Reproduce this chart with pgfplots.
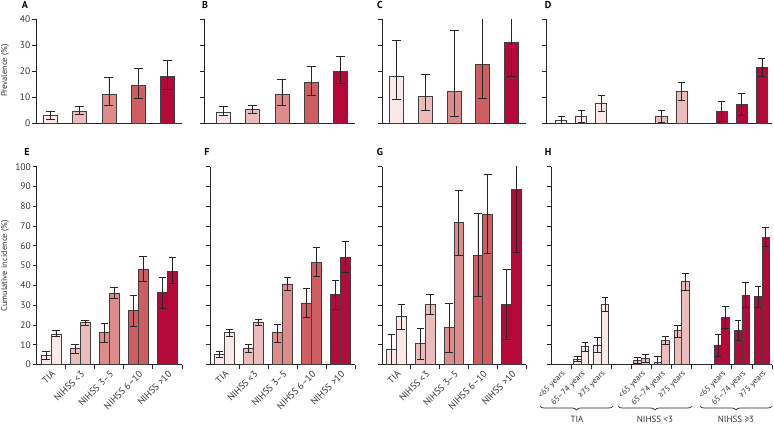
\documentclass[border=0pt]{standalone}
\usepackage{pgfplots}
\pgfplotsset{compat=1.18}
\usepackage{fontspec}
\setmainfont{PT Sans}
\usetikzlibrary{decorations.pathreplacing}
\definecolor{c1}{HTML}{FBE8E8}
\definecolor{c2}{HTML}{EBBCBC}
\definecolor{c3}{HTML}{DD8B8B}
\definecolor{c4}{HTML}{CF5E63}
\definecolor{c5}{HTML}{B5093A}
\definecolor{txt}{HTML}{333333}
\pgfplotsset{
  base/.style={
    scale only axis, axis lines=left,
    axis line style={-, black!85, line width=0.8pt},
    tick align=outside, major tick length=4pt, minor tick length=4pt,
    tick style={black!85, line width=0.8pt},
    major x tick style={draw=none},
    ymin=0,
    tick label style={font=\fontsize{9.5}{11}\selectfont, text=txt},
    /pgf/number format/assume math mode=true,
    xticklabel style={rotate=45, anchor=north east, inner sep=1pt},
    yticklabel style={inner sep=1.5pt},
  },
  top/.style={height=104.3pt, ymax=40, ytick={0,10,20,30,40}, xtick=\empty},
  bot/.style={height=197.8pt, ymax=100, ytick={0,10,...,100}},
  five/.style={xmin=0.5, xmax=5.5, minor xtick={1.5,2.5,3.5,4.5,5.5}},
  eleven/.style={xmax=10.5, minor xtick={0.5,1.5,...,10.5}},
  bs/.style n args={3}{ybar, bar shift=0pt, bar width=#2, draw=black!75, line width=0.8pt, fill=#1,
    error bars/.cd, y dir=both, y explicit,
    error bar style={line width=0.8pt, black!85},
    error mark options={rotate=90, mark size=#3, line width=0.8pt, black!85}},
}
\begin{document}
\begin{tikzpicture}[x=1pt,y=1pt]
\path[use as bounding box] (0,0) rectangle (774,424);
% ---------- A
\begin{axis}[base, top, five, at={(36pt,300.7pt)}, anchor=south west, width=146pt]
\addplot[bs={c1}{0.48}{4.5pt}] coordinates {(1,2.9) += (0,1.8) -= (0,1.4)};
\addplot[bs={c2}{0.48}{4.5pt}] coordinates {(2,4.7) += (0,1.7) -= (0,1.3)};
\addplot[bs={c3}{0.48}{4.5pt}] coordinates {(3,11.2) += (0,6.3) -= (0,4.3)};
\addplot[bs={c4}{0.48}{4.5pt}] coordinates {(4,14.6) += (0,6.5) -= (0,5.1)};
\addplot[bs={c5}{0.48}{4.5pt}] coordinates {(5,17.9) += (0,6.1) -= (0,4.9)};
\end{axis}
% ---------- B
\begin{axis}[base, top, at={(204pt,300.7pt)}, anchor=south west, width=151pt, xmin=0.33, xmax=5.5,
  minor xtick={0.5,1.5,2.5,3.5,4.5,5.5}, yticklabels={}]
\addplot[bs={c1}{0.48}{4.5pt}] coordinates {(1,4.3) += (0,2.1) -= (0,1.4)};
\addplot[bs={c2}{0.48}{4.5pt}] coordinates {(2,5.4) += (0,1.6) -= (0,1.6)};
\addplot[bs={c3}{0.48}{4.5pt}] coordinates {(3,11.2) += (0,5.7) -= (0,4.2)};
\addplot[bs={c4}{0.48}{4.5pt}] coordinates {(4,15.6) += (0,6.1) -= (0,4.9)};
\addplot[bs={c5}{0.48}{4.5pt}] coordinates {(5,20.0) += (0,5.8) -= (0,4.8)};
\end{axis}
% ---------- C
\begin{axis}[base, top, five, at={(382pt,300.7pt)}, anchor=south west, width=144pt, yticklabels={}]
\addplot[bs={c1}{0.48}{4.5pt}] coordinates {(1,18.1) += (0,13.6) -= (0,8.8)};
\addplot[bs={c2}{0.48}{4.5pt}] coordinates {(2,10.2) += (0,8.4) -= (0,5.2)};
\addplot[bs={c3}{0.48}{4.5pt}] coordinates {(3,12.4) += (0,23.4) -= (0,9.8)};
\addplot[bs={c4}{0.48}{4.5pt}] coordinates {(4,22.5) += (0,25.0) -= (0,12.8)};
\addplot[bs={c5}{0.48}{4.5pt}] coordinates {(5,30.9) += (0,20.0) -= (0,12.9)};
\end{axis}
% ---------- D
\begin{axis}[base, top, eleven, at={(546pt,300.7pt)}, anchor=south west, width=226pt, xmin=-0.75, yticklabels={}]
\addplot[bs={c1}{0.56}{3.5pt}] coordinates {(0,1.0) += (0,1.8) -= (0,1.0) (1,2.5) += (0,2.6) -= (0,2.3) (2,7.7) += (0,2.9) -= (0,3.0)};
\addplot[bs={c2}{0.56}{3.5pt}] coordinates {(5,2.5) += (0,2.3) -= (0,2.3) (6,12.3) += (0,3.3) -= (0,3.4)};
\addplot[bs={c5}{0.56}{3.5pt}] coordinates {(8,4.6) += (0,3.8) -= (0,3.7) (9,7.3) += (0,4.0) -= (0,4.1) (10,21.3) += (0,3.4) -= (0,3.2)};
\end{axis}
% ---------- E
\begin{axis}[base, bot, five, at={(36.5pt,59.5pt)}, anchor=south west, width=145.5pt,
  xtick={1,...,5}, xticklabels={TIA, NIHSS <3, NIHSS 3–5, NIHSS 6–10, NIHSS >10}]
\addplot[bs={c1}{0.34}{3.8pt}] coordinates {(0.83,4.8) += (0,2.0) -= (0,2.2) (1.17,15.4) += (0,1.6) -= (0,1.4)};
\addplot[bs={c2}{0.34}{3.8pt}] coordinates {(1.83,8.2) += (0,2.0) -= (0,2.5) (2.17,21.1) += (0,1.4) -= (0,1.1)};
\addplot[bs={c3}{0.34}{3.8pt}] coordinates {(2.83,16.0) += (0,4.8) -= (0,5.0) (3.17,36.0) += (0,3.0) -= (0,2.5)};
\addplot[bs={c4}{0.34}{3.8pt}] coordinates {(3.83,27.2) += (0,7.8) -= (0,7.7) (4.17,48.1) += (0,6.4) -= (0,6.1)};
\addplot[bs={c5}{0.34}{3.8pt}] coordinates {(4.83,36.5) += (0,7.5) -= (0,8.0) (5.17,47.2) += (0,6.8) -= (0,6.2)};
\end{axis}
% ---------- F
\begin{axis}[base, bot, five, at={(210pt,59.5pt)}, anchor=south west, width=145pt, yticklabels={},
  xtick={1,...,5}, xticklabels={TIA, NIHSS <3, NIHSS 3–5, NIHSS 6–10, NIHSS >10}]
\addplot[bs={c1}{0.34}{3.8pt}] coordinates {(0.83,5.1) += (0,1.7) -= (0,1.6) (1.17,16.3) += (0,1.5) -= (0,1.9)};
\addplot[bs={c2}{0.34}{3.8pt}] coordinates {(1.83,8.2) += (0,2.0) -= (0,2.0) (2.17,21.5) += (0,1.3) -= (0,1.5)};
\addplot[bs={c3}{0.34}{3.8pt}] coordinates {(2.83,16.0) += (0,4.3) -= (0,4.8) (3.17,40.7) += (0,3.3) -= (0,3.4)};
\addplot[bs={c4}{0.34}{3.8pt}] coordinates {(3.83,31.1) += (0,7.2) -= (0,7.3) (4.17,51.6) += (0,7.4) -= (0,7.1)};
\addplot[bs={c5}{0.34}{3.8pt}] coordinates {(4.83,35.5) += (0,7.0) -= (0,7.6) (5.17,54.2) += (0,7.9) -= (0,7.6)};
\end{axis}
% ---------- G
\begin{axis}[base, bot, five, at={(382pt,59.5pt)}, anchor=south west, width=144pt, yticklabels={},
  xtick={1,...,5}, xticklabels={TIA, NIHSS <3, NIHSS 3–5, NIHSS 6–10, NIHSS >10}]
\addplot[bs={c1}{0.34}{3.8pt}] coordinates {(0.83,7.8) += (0,7.5) -= (0,7.8) (1.17,24.2) += (0,6.0) -= (0,6.4)};
\addplot[bs={c2}{0.34}{3.8pt}] coordinates {(1.83,10.7) += (0,7.6) -= (0,8.1) (2.17,30.2) += (0,5.1) -= (0,5.0)};
\addplot[bs={c3}{0.34}{3.8pt}] coordinates {(2.83,18.6) += (0,12.3) -= (0,12.4) (3.17,71.8) += (0,16.4) -= (0,16.5)};
\addplot[bs={c4}{0.34}{3.8pt}] coordinates {(3.83,55.3) += (0,21.1) -= (0,20.7) (4.17,75.9) += (0,20.0) -= (0,19.9)};
\addplot[bs={c5}{0.34}{3.8pt}] coordinates {(4.83,30.4) += (0,17.9) -= (0,17.5) (5.17,88.5) += (0,15.0) -= (0,32.0)};
\end{axis}
% ---------- H
\begin{axis}[base, bot, eleven, at={(551pt,59.5pt)}, anchor=south west, width=221pt, xmin=-0.5, yticklabels={},
  xticklabel style={font=\fontsize{8.3}{10}\selectfont},
  xtick={0,1,2,4,5,6,8,9,10},
  xticklabels={<65 years, 65–74 years, ≥75 years, <65 years, 65–74 years, ≥75 years, <65 years, 65–74 years, ≥75 years}]
\addplot[bs={c1}{0.37}{3.3pt}] coordinates {(0.81,2.6) += (0,1.4) -= (0,1.2) (1.19,9.0) += (0,2.0) -= (0,2.2) (1.81,9.9) += (0,3.8) -= (0,3.9) (2.19,30.4) += (0,3.4) -= (0,3.7)};
\addplot[bs={c2}{0.37}{3.3pt}] coordinates {(3.81,2.1) += (0,1.7) -= (0,1.5) (4.19,3.1) += (0,1.9) -= (0,2.2) (4.81,1.1) += (0,3.2) -= (0,1.8) (5.19,12.4) += (0,1.7) -= (0,2.0) (5.81,17.1) += (0,2.7) -= (0,3.4) (6.19,41.9) += (0,4.2) -= (0,4.3)};
\addplot[bs={c5}{0.37}{3.3pt}] coordinates {(7.81,9.9) += (0,5.5) -= (0,5.6) (8.19,23.8) += (0,5.4) -= (0,5.5) (8.81,17.1) += (0,5.4) -= (0,5.1) (9.19,35.0) += (0,6.3) -= (0,6.1) (9.81,34.3) += (0,5.0) -= (0,5.4) (10.19,64.3) += (0,5.0) -= (0,4.7)};
\end{axis}
% ---------- annotations
\begin{scope}[font=\fontsize{8.5}{10}\selectfont, text=txt]
\node[rotate=90] at (5,353.5) {Prevalence (\%)};
\node[rotate=90] at (5,158) {Cumulative incidence (\%)};
\end{scope}
\begin{scope}[font=\fontsize{9}{10}\selectfont, text=txt]
\draw[decorate, decoration={brace, mirror, amplitude=4pt}, line width=0.7pt, black!85] (540,18) -- (613,18);
\draw[decorate, decoration={brace, mirror, amplitude=4pt}, line width=0.7pt, black!85] (618,18) -- (692,18);
\draw[decorate, decoration={brace, mirror, amplitude=4pt}, line width=0.7pt, black!85] (700,18) -- (772,18);
\node at (577,4.5) {TIA};
\node at (655,4.5) {NIHSS <3};
\node at (736,4.5) {NIHSS ≥3};
\end{scope}
\begin{scope}[font=\fontsize{10}{12}\selectfont\bfseries, text=black]
\node at (25,419) {A};
\node at (205,419) {B};
\node at (380,419) {C};
\node at (548,419) {D};
\node at (27,272) {E};
\node at (207,272) {F};
\node at (380,272) {G};
\node at (548,272) {H};
\end{scope}
\end{tikzpicture}
\end{document}
